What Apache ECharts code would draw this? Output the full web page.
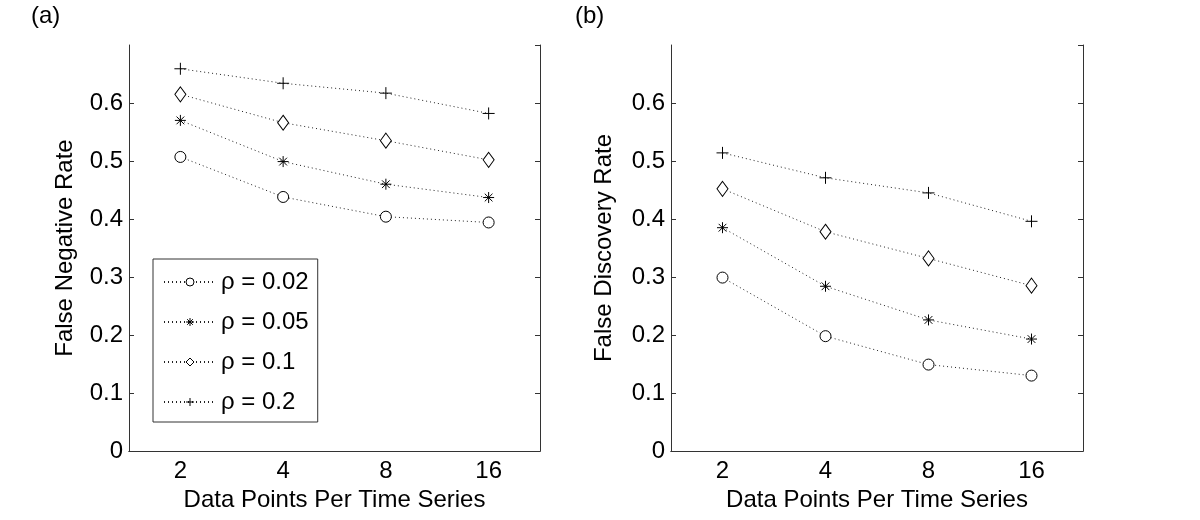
<!DOCTYPE html>
<html><head><meta charset="utf-8">
<script src="https://cdn.jsdelivr.net/npm/echarts@6/dist/echarts.min.js"></script>
<style>html,body{margin:0;padding:0;background:#fff}#c{width:1200px;height:520px}</style>
</head><body><div id="c"></div>
<script>
const categories = ['2', '4', '8', '16'];
const seriesNames = ['ρ = 0.02', 'ρ = 0.05', 'ρ = 0.1', 'ρ = 0.2'];
// (a) False Negative Rate
const fnr002 = [0.507, 0.438, 0.404, 0.394];
const fnr005 = [0.570, 0.499, 0.460, 0.437];
const fnr01  = [0.615, 0.566, 0.535, 0.502];
const fnr02  = [0.659, 0.634, 0.617, 0.582];
// (b) False Discovery Rate
const fdr002 = [0.299, 0.198, 0.149, 0.130];
const fdr005 = [0.385, 0.284, 0.226, 0.193];
const fdr01  = [0.452, 0.378, 0.332, 0.285];
const fdr02  = [0.514, 0.471, 0.445, 0.396];

const FONT = 'Liberation Sans';
const FS = 24;
const AX = '#333';
const plusPath = 'path://M5,0L5,10M0,5L10,5';
const starPath = 'path://M5,0L5,10M0,5L10,5M1.5,1.5L8.5,8.5M8.5,1.5L1.5,8.5';
const symbols = [
  {symbol: 'circle', size: 11, fill: '#fff'},
  {symbol: starPath, size: 11, fill: 'none'},
  {symbol: 'diamond', size: [11, 15], fill: '#fff'},
  {symbol: plusPath, size: 12, fill: 'none'}
];

function mkSeries(arrs, gi) {
  return arrs.map((d, i) => ({
    name: seriesNames[i], type: 'line', xAxisIndex: gi * 2, yAxisIndex: gi * 2,
    data: d, symbol: symbols[i].symbol, symbolSize: symbols[i].size,
    showAllSymbol: true,
    lineStyle: {color: '#222', width: 1, type: [1, 3]},
    itemStyle: {color: symbols[i].fill, borderColor: '#000', borderWidth: 1},
    emphasis: {disabled: true}, z: 3
  }));
}

function xAxes(gi, name) {
  return [
    {type: 'category', gridIndex: gi, data: categories, position: 'bottom',
     boundaryGap: true, name: name, nameLocation: 'middle', nameGap: 23,
     nameTextStyle: {fontFamily: FONT, fontSize: FS, color: '#000'},
     axisLine: {lineStyle: {color: AX, width: 1}},
     axisTick: {inside: true, alignWithLabel: true, length: 5, lineStyle: {color: AX}},
     axisLabel: {fontFamily: FONT, fontSize: FS, color: '#000', margin: 8},
     splitLine: {show: false}},
    {type: 'category', gridIndex: gi, data: categories, position: 'top',
     boundaryGap: true,
     axisLine: {lineStyle: {color: AX, width: 1}},
     axisTick: {inside: true, alignWithLabel: true, length: 5, lineStyle: {color: AX}},
     axisLabel: {show: false}, splitLine: {show: false}}
  ];
}
function yAxes(gi, name, gap) {
  return [
    {type: 'value', gridIndex: gi, min: 0, max: 0.7, interval: 0.1, position: 'left',
     name: name, nameLocation: 'middle', nameGap: gap,
     nameTextStyle: {fontFamily: FONT, fontSize: FS, color: '#000'},
     axisLine: {show: true, lineStyle: {color: AX, width: 1}},
     axisTick: {show: true, inside: true, length: 5, lineStyle: {color: AX}},
     axisLabel: {fontFamily: FONT, fontSize: FS, color: '#000', margin: 6,
                 showMaxLabel: false, formatter: v => String(Math.round(v * 10) / 10)},
     splitLine: {show: false}},
    {type: 'value', gridIndex: gi, min: 0, max: 0.7, interval: 0.1, position: 'right',
     axisLine: {show: true, lineStyle: {color: AX, width: 1}},
     axisTick: {show: true, inside: true, length: 5, lineStyle: {color: AX}},
     axisLabel: {show: false}, splitLine: {show: false}}
  ];
}

const chart = echarts.init(document.getElementById('c'), null, {renderer: 'canvas'});
chart.setOption({
  backgroundColor: '#fff',
  animation: false,
  title: [
    {text: '(a)', left: 31, top: 4, padding: 0, textStyle: {fontFamily: FONT, fontSize: FS, fontWeight: 'normal', color: '#000'}},
    {text: '(b)', left: 575, top: 4, padding: 0, textStyle: {fontFamily: FONT, fontSize: FS, fontWeight: 'normal', color: '#000'}}
  ],
  grid: [
    {left: 129, top: 45, width: 411, height: 406},
    {left: 671, top: 45, width: 412, height: 406}
  ],
  legend: {
    data: seriesNames, orient: 'vertical', left: 153, top: 259,
    padding: [11, 9, 8, 10], itemGap: 16, itemWidth: 52, itemHeight: 10,
    backgroundColor: '#fff', borderColor: AX, borderWidth: 1,
    itemStyle: {borderWidth: 1},
    textStyle: {fontFamily: FONT, fontSize: FS, color: '#000'},
    selectedMode: false
  },
  xAxis: [...xAxes(0, 'Data Points Per Time Series'), ...xAxes(1, 'Data Points Per Time Series')],
  yAxis: [...yAxes(0, 'False Negative Rate', 52), ...yAxes(1, 'False Discovery Rate', 55)],
  series: [...mkSeries([fnr002, fnr005, fnr01, fnr02], 0), ...mkSeries([fdr002, fdr005, fdr01, fdr02], 1)]
});
</script>
</body></html>
